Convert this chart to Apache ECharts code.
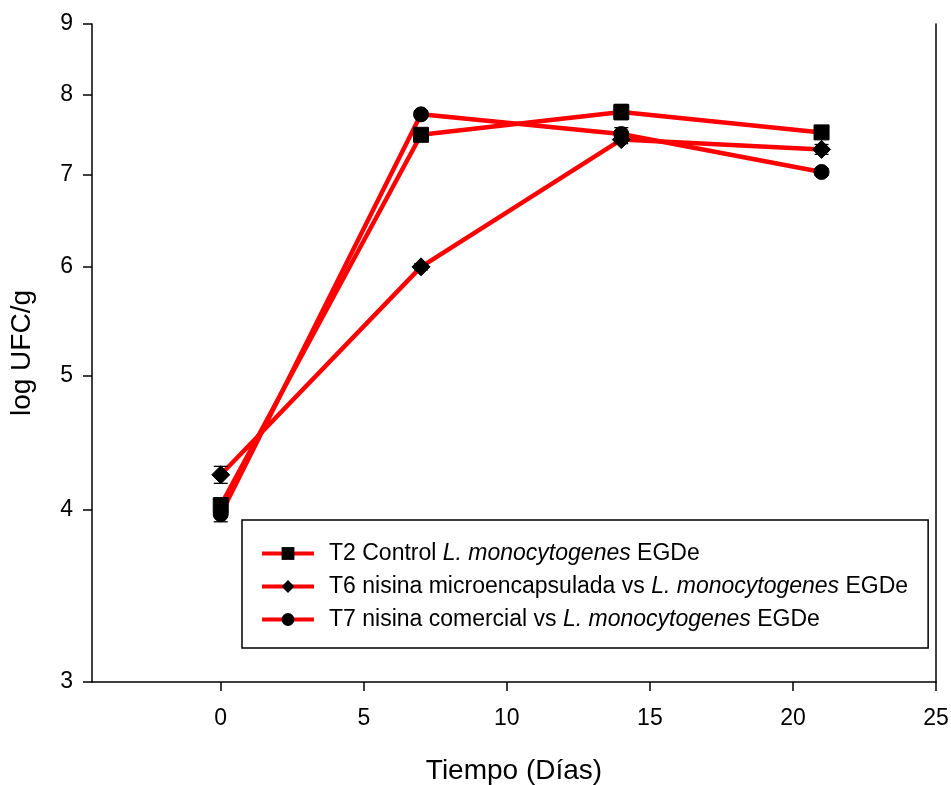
<!DOCTYPE html>
<html>
<head>
<meta charset="utf-8">
<script src="https://cdn.jsdelivr.net/npm/echarts@6/dist/echarts.min.js"></script>
<style>
html,body{margin:0;padding:0;background:#fff;}
#chart{width:951px;height:785px;}
</style>
</head>
<body>
<div id="chart"></div>
<script>
const days = [0, 7, 14, 21];
const seriesNames = [
  'T2 Control L. monocytogenes EGDe',
  'T6 nisina microencapsulada vs L. monocytogenes EGDe',
  'T7 nisina comercial vs L. monocytogenes EGDe'
];
const t2Values = [4.03, 7.48, 7.77, 7.51];
const t6Values = [4.24, 6.00, 7.42, 7.30];
const t7Values = [3.97, 7.74, 7.49, 7.03];
const t2Err = [0.05, 0.06, 0.10, 0.05];
const t6Err = [0.06, 0.03, 0.05, 0.06];
const t7Err = [0.05, 0.04, 0.08, 0.04];
const xTicks = [0, 5, 10, 15, 20, 25];
const yTicks = [3, 4, 5, 6, 7, 8, 9];

const legendRich = {
  0: '{f|T2 Control }{i|L. monocytogenes}{n| EGDe}',
  1: '{f|T6 nisina microencapsulada vs }{i|L. monocytogenes}{n| EGDe}',
  2: '{f|T7 nisina comercial vs }{i|L. monocytogenes}{n| EGDe}'
};

function pts(vals){ return days.map((d,i)=>[d, vals[i]]); }
function errPts(vals, errs){ return days.map((d,i)=>[d, vals[i]-errs[i], vals[i]+errs[i]]); }

function errRender(params, api){
  const x = api.value(0), lo = api.value(1), hi = api.value(2);
  const a = api.coord([x, hi]);
  const b = api.coord([x, lo]);
  const w = 7;
  const st = {stroke:'#000', lineWidth:1.3};
  return {type:'group', children:[
    {type:'line', shape:{x1:a[0], y1:a[1], x2:b[0], y2:b[1]}, style:st},
    {type:'line', shape:{x1:a[0]-w, y1:a[1], x2:a[0]+w, y2:a[1]}, style:st},
    {type:'line', shape:{x1:b[0]-w, y1:b[1], x2:b[0]+w, y2:b[1]}, style:st}
  ]};
}

const symbols = ['rect', 'diamond', 'circle'];
const symSizes = [15, 18, 15];
const valsAll = [t2Values, t6Values, t7Values];
const errAll = [t2Err, t6Err, t7Err];

const series = [];
valsAll.forEach((v, i) => {
  series.push({
    name: seriesNames[i],
    type: 'line',
    data: pts(v),
    symbol: symbols[i],
    symbolSize: symSizes[i],
    showAllSymbol: true,
    lineStyle: {color: '#ff0000', width: 4.5},
    itemStyle: {color: '#000', borderColor: '#000'},
    z: 3,
    animation: false
  });
});
valsAll.forEach((v, i) => {
  series.push({
    type: 'custom',
    renderItem: errRender,
    data: errPts(v, errAll[i]),
    encode: {x: 0, y: [1, 2]},
    z: 4,
    silent: true,
    animation: false
  });
});

const FONT = "'Liberation Sans', Arial, sans-serif";
const chart = echarts.init(document.getElementById('chart'), null, {renderer: 'canvas'});
chart.setOption({
  animation: false,
  backgroundColor: '#fff',
  grid: {left: 92, right: 15, top: 24, bottom: 103, containLabel: false, outerBoundsMode: 'none'},
  xAxis: {
    type: 'value', min: -4.5, max: 25,
    name: 'Tiempo (Días)', nameLocation: 'middle', nameGap: 75,
    nameTextStyle: {fontFamily: FONT, fontSize: 28, color: '#000'},
    axisLine: {lineStyle: {color: '#000', width: 1.5}, onZero: false},
    axisTick: {show: true, inside: false, length: 9, customValues: xTicks, lineStyle: {color: '#000', width: 1.5}},
    axisLabel: {customValues: xTicks, margin: 25, fontFamily: FONT, fontSize: 23, color: '#000'},
    splitLine: {show: false}
  },
  yAxis: [{
    type: 'log', logBase: 10, min: 3, max: 9,
    name: 'log UFC/g', nameLocation: 'middle', nameGap: 56, nameRotate: 90,
    nameTextStyle: {fontFamily: FONT, fontSize: 28, color: '#000'},
    axisLine: {show: true, onZero: false, lineStyle: {color: '#000', width: 1.5}},
    axisTick: {show: true, inside: false, length: 9, customValues: yTicks, lineStyle: {color: '#000', width: 1.5}},
    axisLabel: {customValues: yTicks, margin: 19, fontFamily: FONT, fontSize: 23, color: '#000', formatter: v => String(Math.round(v))},
    splitLine: {show: false}
  }, {
    type: 'value', position: 'right', min: 0, max: 1,
    axisLine: {show: true, onZero: false, lineStyle: {color: '#000', width: 1.5}},
    axisTick: {show: false}, axisLabel: {show: false}, splitLine: {show: false}
  }],
  legend: {
    orient: 'vertical',
    left: 242, top: 520,
    data: seriesNames,
    itemWidth: 52, itemHeight: 16, itemGap: 10,
    padding: [22, 20, 17, 18],
    borderColor: '#000', borderWidth: 1.5,
    backgroundColor: '#fff',
    lineStyle: {width: 4, color: '#ff0000'},
    formatter: name => legendRich[seriesNames.indexOf(name)],
    textStyle: {
      fontFamily: FONT, fontSize: 23, color: '#000',
      rich: {
        f: {fontFamily: FONT, fontSize: 23, color: '#000', padding: [0, 0, 0, 10]},
        n: {fontFamily: FONT, fontSize: 23, color: '#000'},
        i: {fontFamily: FONT, fontSize: 23, fontStyle: 'italic', color: '#000'}
      }
    }
  },
  series: series
});
</script>
</body>
</html>
